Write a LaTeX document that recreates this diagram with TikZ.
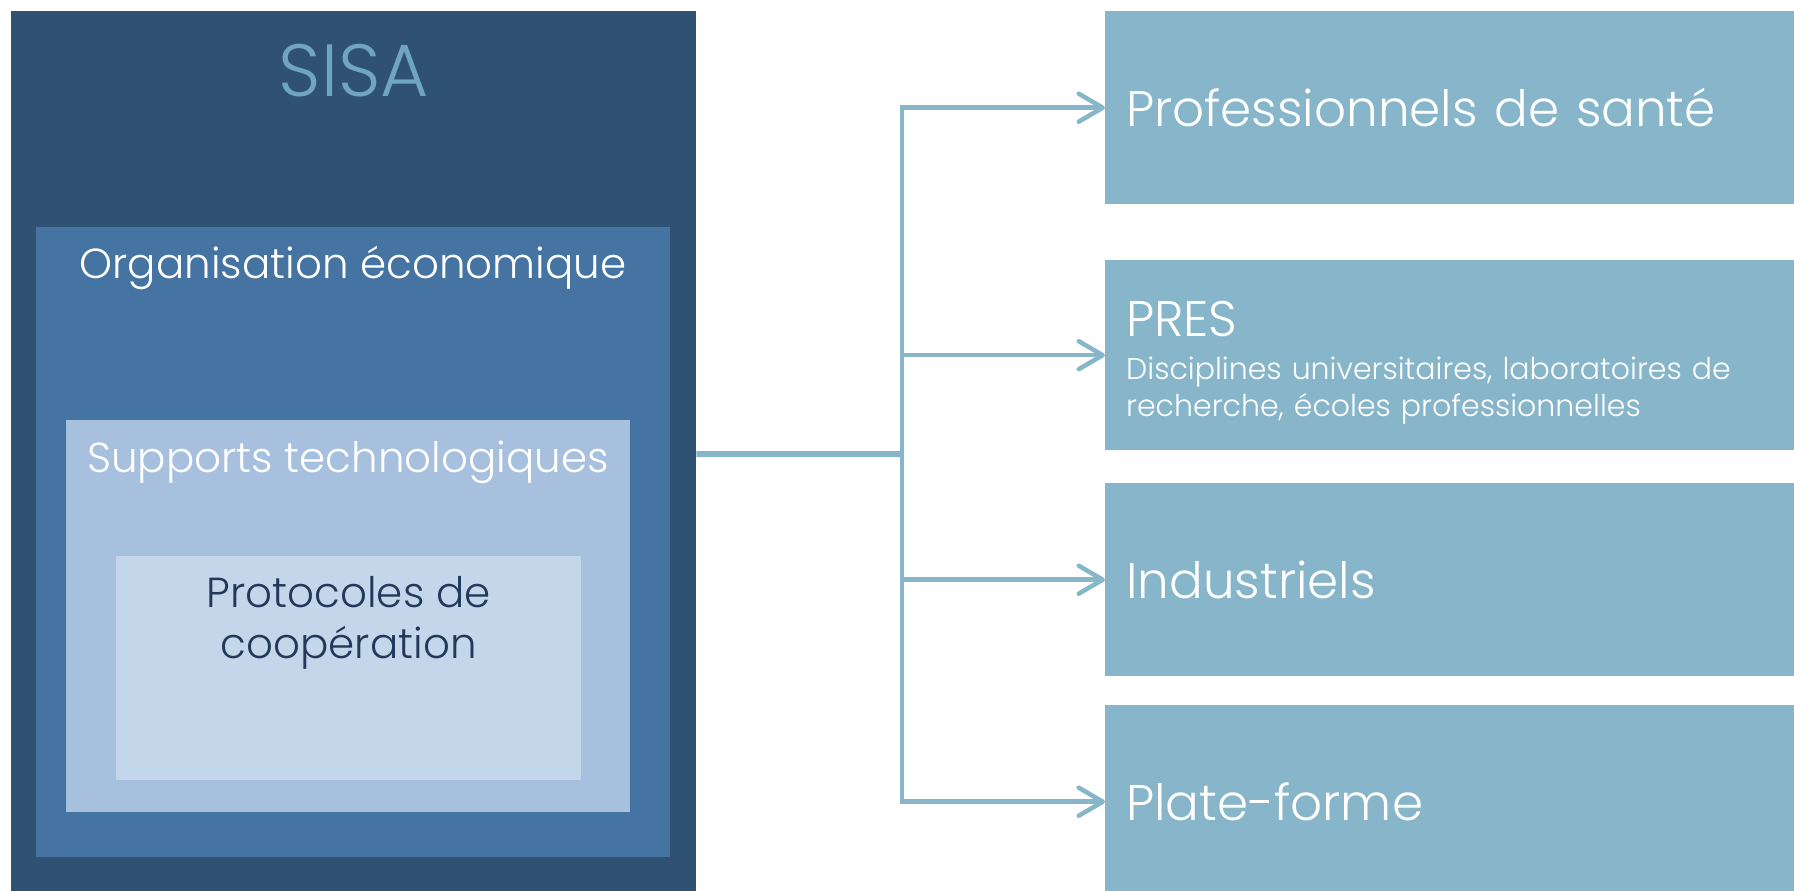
\documentclass[tikz,border=0pt]{standalone}
\usepackage{fontspec}
\setmainfont{Poppins}[UprightFont={* Light}]
\usepackage{tikz}
\usetikzlibrary{arrows.meta, calc, positioning}

\definecolor{sisaDark}{RGB}{47,82,115}
\definecolor{sisaMid}{RGB}{69,115,162}
\definecolor{sisaLight}{RGB}{166,192,222}
\definecolor{sisaPale}{RGB}{195,214,234}
\definecolor{partnerBlue}{RGB}{135,181,202}
\definecolor{sisaTitle}{RGB}{111,165,191}
\definecolor{protoText}{RGB}{34,57,90}

\tikzset{
  layer/.style={rectangle, inner sep=0pt, anchor=north west},
  partner/.style={layer, fill=partnerBlue, minimum width=720pt, minimum height=193pt,
    text=white, align=left, text width=680pt, inner xsep=21pt},
  link/.style={draw=partnerBlue, line width=4.5pt},
  linkarrow/.style={link, -{Straight Barb[length=24pt, width=28pt, round]}},
}

\begin{document}
\begin{tikzpicture}[x=1pt, y=-1pt]
\useasboundingbox (0,0) rectangle (1794,891);
\clip (0,0) rectangle (1794,891);

% Draw nested SISA boxes
\node[layer, fill=sisaDark, minimum width=685pt, minimum height=886pt] (sisa) at (11,11) {};
\node[layer, fill=sisaMid, minimum width=634.5pt, minimum height=630.5pt] (orga) at (35.5,226.5) {};
\node[layer, fill=sisaLight, minimum width=563.5pt, minimum height=392pt] (supports) at (66,420) {};
\node[layer, fill=sisaPale, minimum width=465pt, minimum height=224pt] (proto) at (116,556) {};

% Titles of the boxes
\node[anchor=base, text=sisaTitle, font=\fontsize{74}{80}\selectfont] (sisatitle) at ([yshift=-85pt]sisa.north) {SISA};
\node[anchor=base, text=white, font=\fontsize{42}{48}\selectfont] (orgatitle) at ([yshift=-51.5pt]orga.north) {Organisation économique};
\node[anchor=base, text=white, font=\fontsize{42}{48}\selectfont] (supportstitle) at ([yshift=-52pt]supports.north) {Supports technologiques};
% base = baseline of the last line here
\node[anchor=base, text=protoText, align=center, font=\fontsize{42}{51}\selectfont] (prototitle) at ([yshift=-102pt]proto.north) {Protocoles de\\coopération};

% Partner boxes
\node[partner, font=\fontsize{50}{60}\selectfont] (pro) at (1105,11) {Professionnels de santé};
\node[partner, minimum height=190pt, text depth=72pt, font=\fontsize{30}{37}\selectfont] (pres) at (1105,260)
  {{\fontsize{50}{60}\selectfont PRES}\\[6pt]Disciplines universitaires, laboratoires de\\recherche, écoles professionnelles};
\node[partner, font=\fontsize{50}{60}\selectfont] (indus) at (1105,483) {Industriels};
\node[partner, font=\fontsize{50}{60}\selectfont] (plat) at (1105,705) {Plate-forme};

% Connectors
\coordinate (fork) at (902,454);
\draw[link, line width=6pt] (sisa.east) -- (fork);
\draw[link, line cap=rect] (fork |- pro.west) -- (fork |- plat.west);
\draw[linkarrow] (fork |- pro.west) -- (pro.west);
\draw[linkarrow] (fork |- pres.west) -- (pres.west);
\draw[linkarrow] (fork |- indus.west) -- (indus.west);
\draw[linkarrow] (fork |- plat.west) -- (plat.west);
\end{tikzpicture}
\end{document}
